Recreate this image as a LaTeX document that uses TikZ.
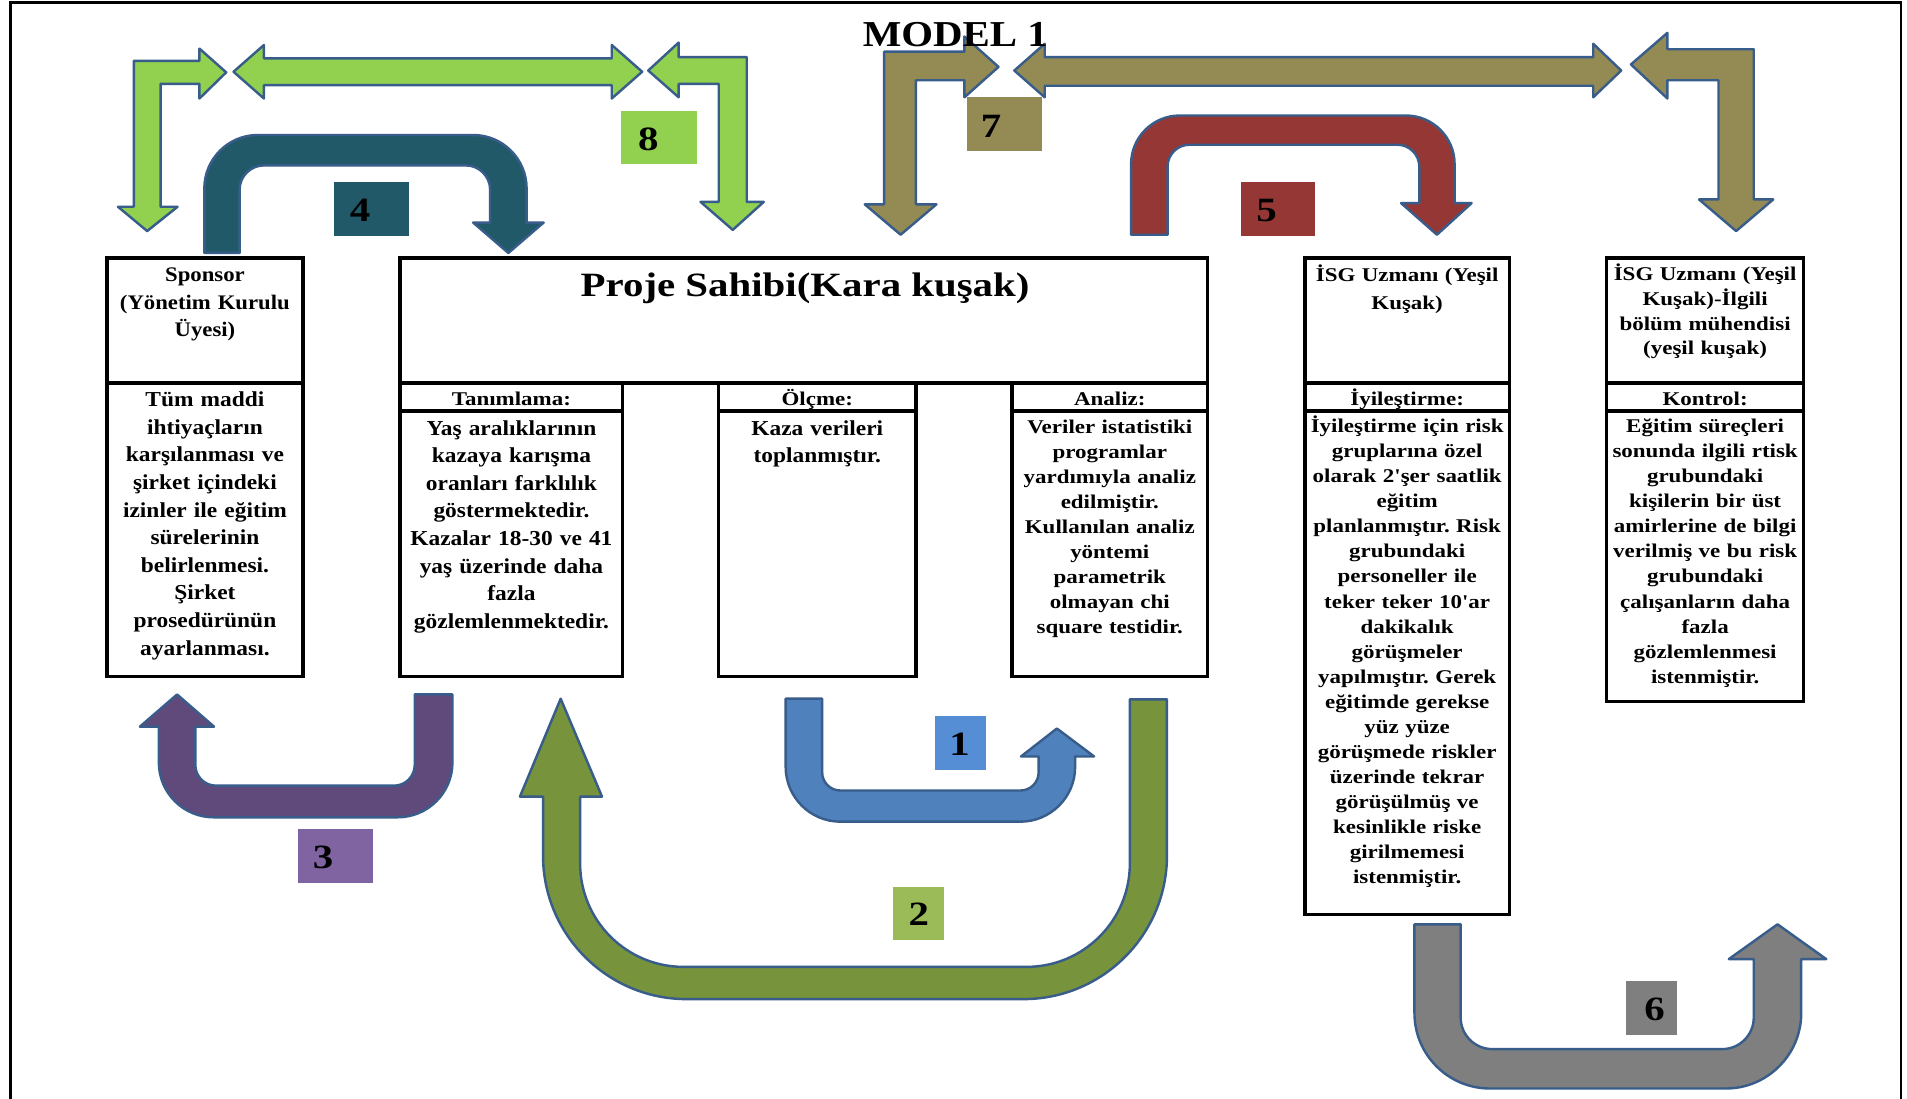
\documentclass[tikz,border=0pt]{standalone}
\usepackage{fontspec}
\setmainfont{Liberation Serif}
\newfontfamily\fA{Liberation Serif}[FakeStretch=1.1]
\newfontfamily\fB{Liberation Serif}[FakeStretch=1.18,Ligatures=TeXOff]
\newfontfamily\fT{Liberation Serif}[FakeStretch=1.2]
\newfontfamily\fM{Liberation Serif}[FakeStretch=1.12]
\frenchspacing
\definecolor{outl}{HTML}{385D8A}
\definecolor{cviii}{HTML}{92D050}
\definecolor{civ}{HTML}{215968}
\definecolor{cvii}{HTML}{948A54}
\definecolor{cv}{HTML}{953735}
\definecolor{ciii}{HTML}{604A7B}
\definecolor{ciiil}{HTML}{8064A2}
\definecolor{cii}{HTML}{77933C}
\definecolor{ciil}{HTML}{9BBB59}
\definecolor{ci}{HTML}{4F81BD}
\definecolor{cil}{HTML}{558ED5}
\definecolor{cvi}{HTML}{7F7F7F}
\tikzset{
  blk/.style={draw=outl, line width=1pt, line join=round},
  bx/.style={draw=black, line width=1.4pt},
  tA/.style={font=\fA\bfseries\frenchspacing\fontsize{8.75pt}{11.35pt}\selectfont, align=center, text width=100pt, inner sep=0pt, anchor=base},
  tAh/.style={font=\fA\bfseries\fontsize{8.5pt}{11.35pt}\selectfont, align=center, text width=100pt, inner sep=0pt, anchor=base},
  tB/.style={font=\fB\bfseries\frenchspacing\fontsize{8pt}{10.28pt}\selectfont, align=center, text width=100pt, inner sep=0pt, anchor=base},
  tBh/.style={font=\fB\bfseries\fontsize{8pt}{11.55pt}\selectfont, align=center, text width=100pt, inner sep=0pt, anchor=base},
  tBk/.style={font=\fB\bfseries\fontsize{8pt}{10.1pt}\selectfont, align=center, text width=100pt, inner sep=0pt, anchor=base},
  hd/.style={font=\fB\bfseries\fontsize{8pt}{10pt}\selectfont, inner sep=0pt, anchor=base},
  dig/.style={font=\fT\bfseries\fontsize{14pt}{14pt}\selectfont, inner sep=0pt, anchor=base},
}
\begin{document}
\begin{tikzpicture}[x=0.5pt,y=-0.5pt]
\useasboundingbox (0,0) rectangle (1568,903);
\clip (0,0) rectangle (1568,903);
\fill[white] (0,0) rectangle (1568,903);
% frame
\draw[line width=1pt] (8.5,910) -- (8.5,2) -- (1563,2) -- (1563,910);

% ---- arrow 8 (light green)
\path[blk, fill=cviii] (110,170) -- (110,50) -- (164,50) -- (164,40) -- (186,59.5) -- (164,81) -- (164,69) -- (132,69) -- (132,170) -- (146,170) -- (121,190) -- (97,170) -- cycle;
\path[blk, fill=cviii] (192,59) -- (217,37) -- (217,48) -- (503,48) -- (503,37) -- (528,59) -- (503,81) -- (503,70) -- (217,70) -- (217,81) -- cycle;
\path[blk, fill=cviii] (533,58) -- (558,35) -- (558,47) -- (614,47) -- (614,166) -- (628,166) -- (602.5,189) -- (576,166) -- (591,166) -- (591,69) -- (558,69) -- (558,80) -- cycle;

% ---- arrow 7 (olive)
\path[blk, fill=cvii] (727,168) -- (727,42.5) -- (793,42.5) -- (793,30) -- (821,55) -- (793,80) -- (793,66) -- (753,66) -- (753,168) -- (770,168) -- (740.5,193) -- (711,168) -- cycle;
\path[blk, fill=cvii] (834,58) -- (859,36) -- (859,47) -- (1310,47) -- (1310,36) -- (1333,58) -- (1310,80) -- (1310,70.5) -- (859,70.5) -- (859,80) -- cycle;
\path[blk, fill=cvii] (1341,53) -- (1371,27) -- (1371,40.5) -- (1442,40.5) -- (1442,164) -- (1458,164) -- (1427.5,190) -- (1397,164) -- (1413,164) -- (1413,66) -- (1371,66) -- (1371,81) -- cycle;

% ---- arrow 4 (teal)
\path[blk, fill=civ] (168,208) -- (168,155) .. controls (168,130.7) and (187.7,111) .. (212,111) -- (389,111) .. controls (413.3,111) and (433,130.7) .. (433,155) -- (433,183) -- (447,183) -- (418,208) -- (389,183) -- (403,183) -- (403,156) .. controls (403,145) and (394,136) .. (383,136) -- (217,136) .. controls (206,136) and (197,145) .. (197,156) -- (197,208) -- cycle;

% ---- arrow 5 (red)
\path[blk, fill=cv] (930,193) -- (930,135) .. controls (930,112.9) and (947.9,95) .. (970,95) -- (1156,95) .. controls (1178.1,95) and (1196,112.9) .. (1196,135) -- (1196,167) -- (1210,167) -- (1181.5,193) -- (1152,167) -- (1167,167) -- (1167,137) .. controls (1167,127.1) and (1158.9,119) .. (1149,119) -- (978,119) .. controls (968.1,119) and (960,127.1) .. (960,137) -- (960,193) -- cycle;

% ---- arrow 3 (purple)
\path[blk, fill=ciii] (341,571) -- (372,571) -- (372,627) .. controls (372,651.8) and (351.8,672) .. (327,672) -- (175.6,672) .. controls (150.8,672) and (130.6,651.8) .. (130.6,627) -- (130.6,597.5) -- (115,597.5) -- (145.6,571) -- (176,597.5) -- (160.6,597.5) -- (160.6,629) .. controls (160.6,638.4) and (168.2,646) .. (177.6,646) -- (324,646) .. controls (333.4,646) and (341,638.4) .. (341,629) -- cycle;

% ---- arrow 2 (green)
\path[blk, fill=cii] (929,575) -- (959.5,575) -- (959.5,703.5) .. controls (959.5,768.6) and (906.6,821.5) .. (841.5,821.5) -- (564.5,821.5) .. controls (499.4,821.5) and (446.5,768.6) .. (446.5,703.5) -- (446.5,655) -- (427.5,655) -- (461,574.5) -- (495,655) -- (477,655) -- (477,710) .. controls (477,756.9) and (515.1,795) .. (562,795) -- (844,795) .. controls (890.9,795) and (929,756.9) .. (929,710) -- cycle;

% ---- arrow 1 (blue)
\path[blk, fill=ci] (646,574.5) -- (676,574.5) -- (676,635) .. controls (676,643.3) and (682.7,650) .. (691,650) -- (839,650) .. controls (847.3,650) and (854,643.3) .. (854,635) -- (854,622) -- (839.5,622) -- (869,599) -- (899.6,622) -- (884,622) -- (884,630.6) .. controls (884,655.4) and (863.8,675.6) .. (839,675.6) -- (691,675.6) .. controls (666.2,675.6) and (646,655.4) .. (646,630.6) -- cycle;

% ---- arrow 6 (gray)
\path[blk, fill=cvi] (1163,760) -- (1201,760) -- (1201,836.6) .. controls (1201,851) and (1212.6,862.6) .. (1227,862.6) -- (1416,862.6) .. controls (1430.4,862.6) and (1442,851) .. (1442,836.6) -- (1442,788.6) -- (1421.5,788.6) -- (1461.5,760) -- (1501.6,788.6) -- (1481,788.6) -- (1481,833) .. controls (1481,867.2) and (1453.2,895) .. (1419,895) -- (1225,895) .. controls (1190.8,895) and (1163,867.2) .. (1163,833) -- cycle;

% ---- number labels
\fill[cviii] (511,91) rectangle (573,135);
\node[dig] (l8) at (533,124) {8};
\fill[civ] (275,150) rectangle (336,194);
\node[dig] (l4) at (296,182) {4};
\fill[cvii] (795,80) rectangle (857,124);
\node[dig] (l7) at (815,113) {7};
\fill[cv] (1020,150) rectangle (1081,194);
\node[dig] (l5) at (1041.5,182) {5};
\fill[ciiil] (245,682) rectangle (307,726);
\node[dig] (l3) at (265.6,714) {3};
\fill[cil] (769,589) rectangle (811,633);
\node[dig] (l1) at (789,621) {1};
\fill[ciil] (734,729) rectangle (776,773);
\node[dig] (l2) at (755.4,761) {2};
\fill[cvi] (1337,807) rectangle (1379,851);
\node[dig] (l6) at (1360.5,839) {6};

% ---- boxes
\draw[bx] (88,212) rectangle (249,556);
\draw[bx] (88,315) -- (249,315);
\draw[bx] (329,212) rectangle (993,315);
\draw[bx] (329,315) rectangle (512,556);
\draw[bx] (329,338) -- (512,338);
\draw[bx] (591,315) rectangle (753,556);
\draw[bx] (591,338) -- (753,338);
\draw[bx] (832,315) rectangle (993,556);
\draw[bx] (832,338) -- (993,338);
\draw[bx] (1073,212) rectangle (1241,752);
\draw[bx] (1073,315) -- (1241,315);
\draw[bx] (1073,338) -- (1241,338);
\draw[bx] (1321,212) rectangle (1483,577);
\draw[bx] (1321,315) -- (1483,315);
\draw[bx] (1321,338) -- (1483,338);

% ---- texts
\node[tAh] (sponsorHead) at (168.5,231.6) {Sponsor\\(Yönetim Kurulu\\Üyesi)};
\node[tA] (sponsorBody) at (168.5,334.4) {Tüm maddi\\ihtiyaçların\\karşılanması ve\\şirket içindeki\\izinler ile eğitim\\sürelerinin\\belirlenmesi.\\Şirket\\prosedürünün\\ayarlanması.};
\node[font=\fT\bfseries\fontsize{14pt}{16pt}\selectfont, inner sep=0pt, anchor=base] (proje) at (662,244) {Proje Sahibi(Kara kuşak)};
\node[hd] (tanHead) at (420.5,333.5) {Tanımlama:};
\node[tA] (tanBody) at (420.5,357.7) {Yaş aralıklarının\\kazaya karışma\\oranları farklılık\\göstermektedir.\\Kazalar 18-30 ve 41\\yaş üzerinde daha\\fazla\\gözlemlenmektedir.};
\node[hd] (olcHead) at (672,333.5) {Ölçme:};
\node[tA] (olcBody) at (672,357.7) {Kaza verileri\\toplanmıştır.};
\node[hd] (anaHead) at (912.5,333.5) {Analiz:};
\node[tB] (anaBody) at (912.5,356.3) {Veriler istatistiki\\programlar\\yardımıyla analiz\\edilmiştir.\\Kullanılan analiz\\yöntemi\\parametrik\\olmayan chi\\square testidir.};
\node[tBh] (isgHead) at (1157,231.3) {İSG Uzmanı (Yeşil\\Kuşak)};
\node[hd] (iyiHead) at (1157,333.5) {İyileştirme:};
\node[tB] (iyiBody) at (1157,356) {İyileştirme için risk\\gruplarına özel\\olarak 2'şer saatlik\\eğitim\\planlanmıştır. Risk\\grubundaki\\personeller ile\\teker teker 10'ar\\dakikalık\\görüşmeler\\yapılmıştır. Gerek\\eğitimde gerekse\\yüz yüze\\görüşmede riskler\\üzerinde tekrar\\görüşülmüş ve\\kesinlikle riske\\girilmemesi\\istenmiştir.};
\node[tBk] (konHeadTop) at (1402,231) {İSG Uzmanı (Yeşil\\Kuşak)-İlgili\\bölüm mühendisi\\(yeşil kuşak)};
\node[hd] (konHead) at (1402,333.5) {Kontrol:};
\node[tB] (konBody) at (1402,356) {Eğitim süreçleri\\sonunda ilgili rtisk\\grubundaki\\kişilerin bir üst\\amirlerine de bilgi\\verilmiş ve bu risk\\grubundaki\\çalışanların daha\\fazla\\gözlemlenmesi\\istenmiştir.};

% ---- title
\node[font=\fM\bfseries\fontsize{15pt}{16pt}\selectfont, inner sep=0pt, anchor=base] (model) at (785.5,38.4) {MODEL 1};
\end{tikzpicture}
\end{document}
